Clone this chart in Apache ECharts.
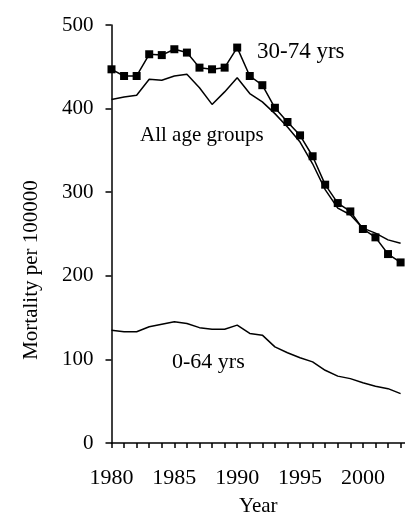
<!DOCTYPE html>
<html>
<head>
<meta charset="utf-8">
<script src="https://cdn.jsdelivr.net/npm/echarts@6/dist/echarts.min.js"></script>
<style>html,body{margin:0;padding:0;background:#fff}#c{width:405px;height:515px}</style>
</head>
<body>
<div id="c"></div>
<script>
var years = [1980,1981,1982,1983,1984,1985,1986,1987,1988,1989,1990,1991,1992,1993,1994,1995,1996,1997,1998,1999,2000,2001,2002,2003];
var age30to74 = [447,439,439,465,464,471,467,449,447,449,473,439,428,401,384,368,343,309,287,277,256,246,226,216];
var allAges   = [411,414,416,435,434,439,441,425,405,420,437,418,408,394,378,360,334,303,281,273,257,251,243,239];
var age0to64  = [135,133,133,139,142,145,143,138,136,136,141,131,129,115,108,102,97,87,80,77,72,68,65,59];
var yTicks = [0,100,200,300,400,500];
var xLabelYears = [1980,1985,1990,1995,2000];

function pairs(arr){ return years.map(function(y,i){ return [y, arr[i]]; }); }
var font = '"Liberation Serif", "DejaVu Serif", serif';
var chart = echarts.init(document.getElementById('c'), null, {renderer:'canvas'});
chart.setOption({
  animation:false,
  backgroundColor:'#fff',
  grid:{left:111.5, right:0, top:25, bottom:72, containLabel:false, outerBoundsMode:'none'},
  xAxis:{
    type:'value', min:1980, max:2003.35, interval:1,
    name:'Year', nameLocation:'middle', nameGap:53,
    nameTextStyle:{color:'#000', fontFamily:font, fontSize:21},
    axisLine:{show:true, lineStyle:{color:'#000', width:1.5}},
    axisTick:{show:true, inside:false, length:5, lineStyle:{color:'#000', width:1.5}},
    splitLine:{show:false},
    axisLabel:{color:'#000', fontFamily:font, fontSize:22, margin:24,
      showMaxLabel:false,
      formatter:function(v){ return xLabelYears.indexOf(v) >= 0 ? String(v) : ''; }}
  },
  yAxis:{
    type:'value', min:0, max:500, interval:100,
    axisLine:{show:true, lineStyle:{color:'#000', width:1.5}},
    axisTick:{show:true, inside:false, length:6, lineStyle:{color:'#000', width:1.5}},
    splitLine:{show:false},
    axisLabel:{color:'#000', fontFamily:font, fontSize:21, margin:18,
      formatter:function(v){ return yTicks.indexOf(v) >= 0 ? String(v) : ''; }}
  },
  graphic:[
    {type:'text', left:257, top:40, style:{text:'30-74 yrs', fill:'#000', font:'23px ' + font}},
    {type:'text', left:140, top:125, style:{text:'All age groups', fill:'#000', font:'21px ' + font}},
    {type:'text', left:172, top:351, style:{text:'0-64 yrs', fill:'#000', font:'22px ' + font}},
    {type:'text', x:31, y:270, rotation:Math.PI/2,
      style:{text:'Mortality per 100000', fill:'#000', font:'21px ' + font, align:'center', verticalAlign:'middle'}}
  ],
  series:[
    {type:'line', name:'30-74 yrs', data:pairs(age30to74), symbol:'rect', symbolSize:8,
      itemStyle:{color:'#000'}, lineStyle:{color:'#000', width:1.5}},
    {type:'line', name:'All age groups', data:pairs(allAges), symbol:'none',
      lineStyle:{color:'#000', width:1.5}},
    {type:'line', name:'0-64 yrs', data:pairs(age0to64), symbol:'none',
      lineStyle:{color:'#000', width:1.5}}
  ]
});
</script>
</body>
</html>
